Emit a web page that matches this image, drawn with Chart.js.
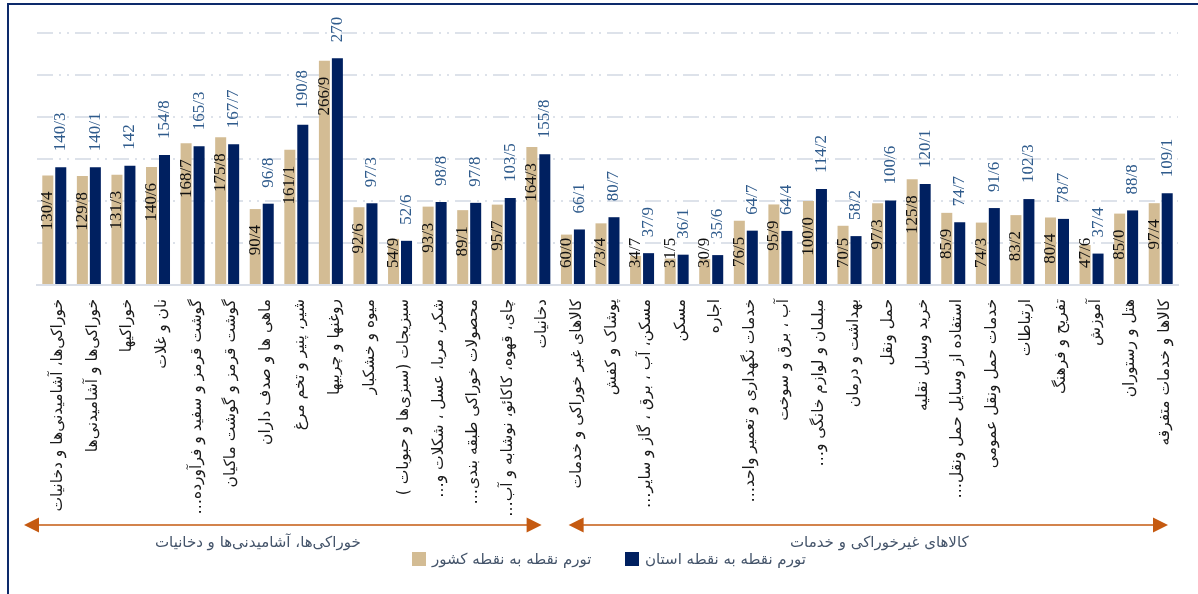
<!DOCTYPE html>
<html lang="fa">
<head>
<meta charset="utf-8">
<script src="https://cdn.jsdelivr.net/npm/chart.js@4.4.1/dist/chart.umd.min.js"></script>
<style>
  html, body { margin: 0; padding: 0; background: #fff; }
  #wrap { position: relative; width: 1198px; height: 594px; overflow: hidden; }
  #frame { position: absolute; left: 7px; top: 3px; width: 1400px; height: 800px;
           border-left: 2px solid #0d2a6b; border-top: 2px solid #0d2a6b; }
  #chart { position: absolute; left: 0; top: 0; }
  .legend-item { position: absolute; top: 550px; display: flex; align-items: center;
                 font: 15px 'DejaVu Sans'; color: #44546a; }
  .legend-item .box { width: 14px; height: 14px; margin-right: 6px; }
</style>
</head>
<body>
<div id="wrap">
  <div id="frame"></div>
  <canvas id="chart" width="1198" height="594" dir="rtl"></canvas>
  <div class="legend-item" style="left:412px"><span class="box" style="background:#d3bc94"></span><span dir="rtl" id="lg0"></span></div>
  <div class="legend-item" style="left:625px"><span class="box" style="background:#002060"></span><span dir="rtl" id="lg1"></span></div>
</div>
<script>
// دسته‌ها (برچسب محور افقی)
const categories = [
    'خوراکی‌ها، آشامیدنی‌ها و دخانیات',
    'خوراکی‌ها و آشامیدنی‌ها',
    'خوراکیها',
    'نان و غلات',
    'گوشت قرمز و سفید و فرآورده…',
    'گوشت قرمز و گوشت ماکیان',
    'ماهی ها و صدف داران',
    'شیر، پنیر و تخم مرغ',
    'روغنها و چربیها',
    'میوه و خشکبار',
    'سبزیجات (سبزی‌ها و حبوبات )',
    'شکر، مربا، عسل ، شکلات و…',
    'محصولات خوراکی طبقه بندی…',
    'چای، قهوه، کاکائو، نوشابه و آب…',
    'دخانیات',
    'کالاهای غیر خوراکی و خدمات',
    'پوشاک و کفش',
    'مسکن، آب ، برق ، گاز و سایر…',
    'مسکن',
    'اجاره',
    'خدمات نگهداری و تعمیر واحد…',
    'آب ، برق و سوخت',
    'مبلمان و لوازم خانگی و…',
    'بهداشت و درمان',
    'حمل ونقل',
    'خرید وسایل نقلیه',
    'استفاده از وسایل حمل ونقل…',
    'خدمات حمل ونقل عمومی',
    'ارتباطات',
    'تفریح و فرهنگ',
    'آموزش',
    'هتل و رستوران',
    'کالاها و خدمات متفرقه'
];

const countryInflation = [
    130.4, 129.8, 131.3, 140.6, 168.7, 175.8, 90.4, 161.1, 266.9, 92.6,
    54.9, 93.3, 89.1, 95.7, 164.3, 60.0, 73.4, 34.7, 31.5, 30.9,
    76.5, 95.9, 100.0, 70.5, 97.3, 125.8, 85.9, 74.3, 83.2, 80.4,
    47.6, 85.0, 97.4
];

const provinceInflation = [
    140.3, 140.1, 142, 154.8, 165.3, 167.7, 96.8, 190.8, 270, 97.3,
    52.6, 98.8, 97.8, 103.5, 155.8, 66.1, 80.7, 37.9, 36.1, 35.6,
    64.7, 64.4, 114.2, 58.2, 100.6, 120.1, 74.7, 91.6, 102.3, 78.7,
    37.4, 88.8, 109.1
];

const seriesNames = ['تورم نقطه به نقطه کشور', 'تورم نقطه به نقطه استان'];
const groupNames = ['خوراکی‌ها، آشامیدنی‌ها و دخانیات', 'کالاهای غیرخوراکی و خدمات'];
const groupFirst = [0, 15];
const groupLast = [14, 32];
const yMax = 300;
const yStep = 50;

document.getElementById('lg0').textContent = seriesNames[0];
document.getElementById('lg1').textContent = seriesNames[1];

// اعشار با «/» نوشته می‌شود
function fmtCountry(v) { return v.toFixed(1).replace('.', '/'); }
function fmtProvince(v) { return String(v).replace('.', '/'); }

const barLabels = {
    id: 'barLabels',
    afterDatasetsDraw(chart) {
        const ctx = chart.ctx;
        const base = chart.scales.y.getPixelForValue(0);
        ctx.save();
        ctx.font = '17px "Liberation Serif"';
        ctx.direction = 'ltr';
        ctx.textBaseline = 'middle';
        ctx.textAlign = 'left';
        chart.data.datasets.forEach((ds, di) => {
            const meta = chart.getDatasetMeta(di);
            meta.data.forEach((bar, i) => {
                const txt = di === 0 ? fmtCountry(ds.data[i]) : fmtProvince(ds.data[i]);
                const w = ctx.measureText(txt).width;
                let top;
                if (di === 0) {
                    top = Math.min(bar.y + 16, base - 17 - w);
                    ctx.fillStyle = '#111';
                } else {
                    top = bar.y - 16 - w;
                    ctx.fillStyle = '#2f5b8c';
                }
                ctx.save();
                ctx.translate(bar.x, top + w);
                ctx.rotate(-Math.PI / 2);
                ctx.fillText(txt, 0, 0);
                ctx.restore();
            });
        });
        ctx.restore();
    }
};

const groupBrackets = {
    id: 'groupBrackets',
    afterDraw(chart) {
        const x = chart.scales.x;
        const step = (x.right - x.left) / categories.length;
        const ctx = chart.ctx;
        const y = 525;
        ctx.save();
        groupNames.forEach((name, gi) => {
            const leftEdge = x.getPixelForValue(groupFirst[gi]) - step / 2;
            const rightEdge = x.getPixelForValue(groupLast[gi]) + step / 2;
            const x0 = leftEdge + (gi === 0 ? -13 : 13);
            const x1 = rightEdge + (gi === groupNames.length - 1 ? -10 : -14);

            ctx.strokeStyle = '#c55a11';
            ctx.fillStyle = '#c55a11';
            ctx.lineWidth = 1.5;
            ctx.beginPath();
            ctx.moveTo(x0 + 10, y);
            ctx.lineTo(x1 - 10, y);
            ctx.stroke();
            // سر پیکان‌ها
            ctx.beginPath();
            ctx.moveTo(x0, y);
            ctx.lineTo(x0 + 15, y - 7.5);
            ctx.lineTo(x0 + 15, y + 7.5);
            ctx.closePath();
            ctx.fill();
            ctx.beginPath();
            ctx.moveTo(x1, y);
            ctx.lineTo(x1 - 15, y - 7.5);
            ctx.lineTo(x1 - 15, y + 7.5);
            ctx.closePath();
            ctx.fill();

            ctx.fillStyle = '#44546a';
            ctx.font = '15px "DejaVu Sans"';
            ctx.textAlign = 'center';
            ctx.textBaseline = 'middle';
            const mid = (x0 + x1) / 2 + (gi === 0 ? -25 : 11);
            ctx.fillText(name, mid, 543);
        });
        ctx.restore();
    }
};

const chart = new Chart(document.getElementById('chart'), {
    type: 'bar',
    data: {
        labels: categories,
        datasets: [{
            label: seriesNames[0],
            data: countryInflation,
            backgroundColor: '#d3bc94',
            borderWidth: 0,
            categoryPercentage: 0.75,
            barPercentage: 0.85
        }, {
            label: seriesNames[1],
            data: provinceInflation,
            backgroundColor: '#002060',
            borderWidth: 0,
            categoryPercentage: 0.75,
            barPercentage: 0.85
        }]
    },
    options: {
        responsive: false,
        animation: false,
        layout: {
            padding: { left: 37, right: 20, top: 33, bottom: 0 }
        },
        plugins: {
            legend: { display: false },
            tooltip: { enabled: false }
        },
        scales: {
            x: {
                grid: { display: false, drawTicks: false },
                border: { display: true, color: '#d9dee7', width: 2 },
                ticks: {
                    autoSkip: false,
                    minRotation: 90,
                    maxRotation: 90,
                    padding: 14,
                    labelOffset: 4,
                    color: '#1a1a1a',
                    font: { family: 'DejaVu Sans', size: 15.5 }
                },
                afterFit(scale) { scale.height = 309; }
            },
            y: {
                min: 0,
                max: yMax,
                ticks: { display: false, stepSize: yStep },
                border: { display: false, dash: [16, 6, 2, 6, 2, 6] },
                grid: {
                    drawTicks: false,
                    lineWidth: 2,
                    color: (c) => c.tick && c.tick.value === 0 ? 'rgba(0,0,0,0)' : '#dde2ea'
                },
                afterFit(scale) { scale.width = 0; }
            }
        }
    },
    plugins: [barLabels, groupBrackets]
});
</script>
</body>
</html>
